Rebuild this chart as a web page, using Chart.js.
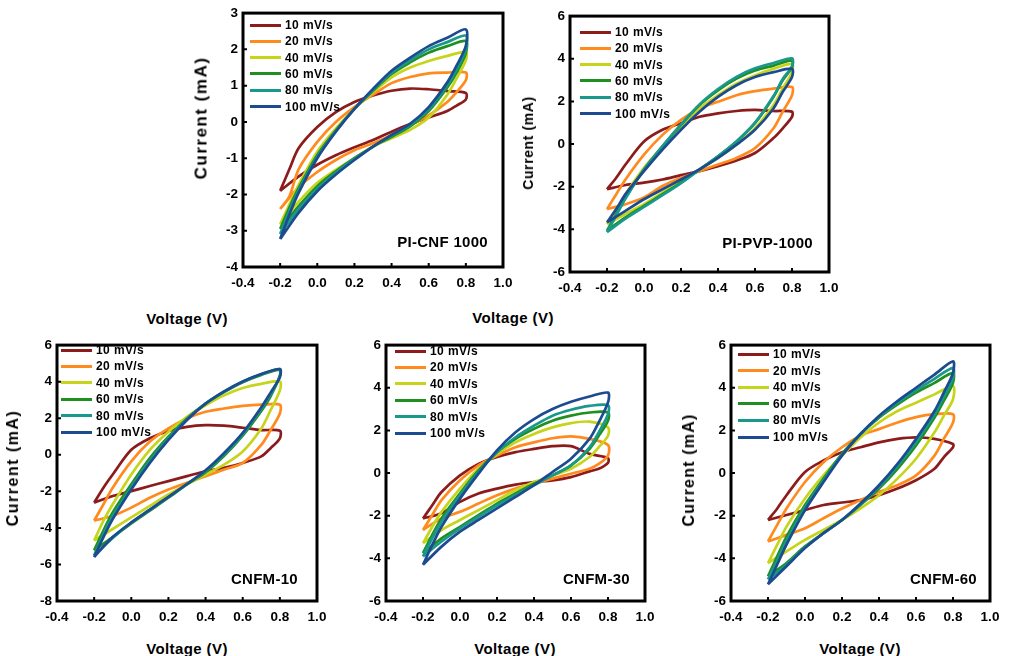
<!DOCTYPE html>
<html>
<head>
<meta charset="utf-8">
<script src="https://cdn.jsdelivr.net/npm/chart.js@4.4.1/dist/chart.umd.min.js"></script>
<style>
  body { margin: 0; background: #fff; }
  #fig { position: relative; width: 1032px; height: 656px; overflow: hidden;
         font-family: "Liberation Sans", Arial, sans-serif; color: #000; }
  #fig canvas { position: absolute; }
  .txt { position: absolute; white-space: nowrap; font-weight: bold; line-height: 1; }
  .swatch { position: absolute; height: 3px; }
</style>
</head>
<body>
<div id="fig"></div>
<script>
// voltage grid : forward scan then reverse scan
const fwdV = [-0.2, -0.15, -0.1, 0, 0.1, 0.2, 0.3, 0.4, 0.5, 0.6, 0.7, 0.8];
const revV = [0.8, 0.75, 0.7, 0.6, 0.5, 0.4, 0.3, 0.2, 0.1, 0, -0.1, -0.2];

const rates = ['10 mV/s', '20 mV/s', '40 mV/s', '60 mV/s', '80 mV/s', '100 mV/s'];
const colors = ['#8c1c1c', '#ff8a1e', '#c6d41a', '#1f8f1f', '#18998b', '#1d4b8f'];

const xTicks = [-0.4, 1.0, 0.2];

// PI-CNF 1000 (current in mA)
const cnfFwd = [
  [-1.9, -1.3, -0.72, -0.14, 0.27, 0.55, 0.73, 0.86, 0.92, 0.9, 0.85, 0.8],
  [-2.4, -2.05, -1.3, -0.55, 0.0, 0.41, 0.75, 1.07, 1.24, 1.34, 1.36, 1.36],
  [-2.82, -2.27, -1.73, -0.82, -0.18, 0.36, 0.82, 1.23, 1.5, 1.68, 1.82, 1.93],
  [-2.95, -2.36, -1.82, -0.91, -0.23, 0.36, 0.86, 1.32, 1.64, 1.91, 2.09, 2.23],
  [-3.09, -2.45, -1.88, -0.95, -0.25, 0.36, 0.88, 1.36, 1.7, 2.0, 2.2, 2.38],
  [-3.23, -2.55, -1.95, -1.0, -0.27, 0.36, 0.91, 1.41, 1.77, 2.09, 2.32, 2.55]
];
const cnfRev = [
  [0.62, 0.45, 0.3, 0.12, -0.06, -0.27, -0.5, -0.7, -0.92, -1.18, -1.5, -1.9],
  [1.15, 0.82, 0.55, 0.18, -0.09, -0.36, -0.59, -0.78, -1.05, -1.38, -1.8, -2.4],
  [1.7, 1.2, 0.75, 0.12, -0.22, -0.45, -0.68, -1.0, -1.32, -1.68, -2.2, -2.82],
  [1.9, 1.36, 0.95, 0.3, -0.12, -0.41, -0.68, -1.0, -1.36, -1.77, -2.32, -2.95],
  [2.0, 1.45, 1.02, 0.35, -0.08, -0.38, -0.68, -1.02, -1.4, -1.84, -2.4, -3.09],
  [2.1, 1.55, 1.09, 0.41, -0.05, -0.36, -0.68, -1.05, -1.45, -1.91, -2.5, -3.23]
];

// PI-PVP-1000
const pvpFwd = [
  [-2.12, -1.58, -0.96, 0.12, 0.67, 0.98, 1.28, 1.44, 1.55, 1.6, 1.55, 1.52],
  [-3.05, -2.35, -1.66, -0.5, 0.43, 1.13, 1.67, 1.98, 2.29, 2.48, 2.6, 2.68],
  [-3.75, -3.13, -2.35, -1.11, -0.11, 0.82, 1.67, 2.29, 2.83, 3.22, 3.53, 3.76],
  [-4.06, -3.28, -2.51, -1.19, -0.11, 0.9, 1.83, 2.52, 3.07, 3.45, 3.68, 3.92],
  [-4.13, -3.35, -2.55, -1.2, -0.1, 0.92, 1.86, 2.58, 3.15, 3.55, 3.8, 4.02],
  [-3.67, -3.05, -2.35, -1.27, -0.26, 0.67, 1.52, 2.21, 2.76, 3.14, 3.37, 3.53]
];
const pvpRev = [
  [1.28, 0.74, 0.28, -0.42, -0.77, -1.04, -1.27, -1.46, -1.66, -1.81, -1.92, -2.12],
  [2.29, 1.52, 0.74, -0.19, -0.65, -0.96, -1.27, -1.58, -1.97, -2.5, -2.82, -3.05],
  [3.37, 2.6, 1.83, 0.74, -0.03, -0.65, -1.19, -1.73, -2.28, -2.82, -3.28, -3.75],
  [3.6, 2.99, 2.21, 0.98, 0.12, -0.57, -1.19, -1.81, -2.35, -2.9, -3.44, -4.06],
  [3.65, 3.05, 2.25, 1.0, 0.12, -0.58, -1.2, -1.83, -2.4, -2.95, -3.5, -4.13],
  [3.14, 2.45, 1.67, 0.67, -0.03, -0.65, -1.19, -1.66, -2.12, -2.59, -3.13, -3.67]
];

// CNFM-10
const m10Fwd = [
  [-2.62, -1.8, -1.08, 0.27, 0.9, 1.3, 1.53, 1.62, 1.59, 1.48, 1.35, 1.32],
  [-3.61, -2.71, -1.8, -0.36, 0.72, 1.44, 1.99, 2.35, 2.53, 2.67, 2.74, 2.74],
  [-4.69, -3.61, -2.71, -1.08, 0.27, 1.26, 2.08, 2.71, 3.25, 3.65, 3.88, 4.01],
  [-5.23, -4.15, -3.16, -1.62, -0.18, 0.99, 1.99, 2.8, 3.43, 3.97, 4.37, 4.66],
  [-5.5, -4.35, -3.35, -1.78, -0.32, 0.9, 1.95, 2.8, 3.45, 4.0, 4.4, 4.69],
  [-5.6, -4.51, -3.52, -1.9, -0.45, 0.81, 1.9, 2.8, 3.47, 4.01, 4.42, 4.69]
];
const m10Rev = [
  [0.9, 0.36, -0.09, -0.45, -0.72, -0.9, -1.17, -1.44, -1.71, -1.99, -2.26, -2.62],
  [2.26, 1.35, 0.54, -0.45, -0.81, -1.17, -1.53, -1.9, -2.35, -2.89, -3.34, -3.61],
  [3.52, 2.44, 1.44, 0.18, -0.54, -1.08, -1.62, -2.17, -2.8, -3.43, -4.06, -4.69],
  [4.33, 3.2, 2.4, 1.05, -0.05, -0.95, -1.62, -2.35, -3.05, -3.75, -4.51, -5.23],
  [4.3, 3.3, 2.5, 1.12, 0.02, -0.9, -1.6, -2.32, -3.02, -3.72, -4.55, -5.5],
  [4.24, 3.4, 2.6, 1.2, 0.1, -0.85, -1.6, -2.3, -3.0, -3.7, -4.5, -5.6]
];

// CNFM-30
const m30Fwd = [
  [-2.13, -1.51, -0.89, -0.11, 0.43, 0.75, 0.98, 1.13, 1.26, 1.26, 0.9, 0.7],
  [-2.67, -1.97, -1.27, -0.34, 0.36, 0.82, 1.21, 1.44, 1.63, 1.72, 1.6, 1.32],
  [-3.29, -2.52, -1.82, -0.73, 0.2, 0.9, 1.44, 1.83, 2.14, 2.34, 2.41, 2.14],
  [-3.76, -2.9, -2.13, -0.96, 0.12, 0.98, 1.6, 2.07, 2.45, 2.69, 2.84, 2.84],
  [-3.91, -3.06, -2.28, -1.04, 0.05, 0.98, 1.68, 2.22, 2.69, 2.97, 3.15, 3.18],
  [-4.3, -3.37, -2.52, -1.2, -0.03, 1.06, 1.91, 2.53, 3.0, 3.34, 3.59, 3.77]
];
const m30Rev = [
  [0.48, 0.2, 0.08, -0.19, -0.34, -0.42, -0.54, -0.73, -0.96, -1.35, -1.89, -2.13],
  [0.82, 0.43, 0.2, -0.03, -0.26, -0.5, -0.73, -1.04, -1.43, -1.82, -2.13, -2.67],
  [1.75, 1.21, 0.75, 0.2, -0.11, -0.42, -0.81, -1.27, -1.74, -2.2, -2.67, -3.29],
  [2.45, 1.75, 1.13, 0.36, -0.11, -0.5, -0.96, -1.43, -1.97, -2.52, -3.06, -3.76],
  [2.76, 1.91, 1.21, 0.36, -0.11, -0.57, -1.04, -1.51, -2.05, -2.59, -3.21, -3.91],
  [3.31, 2.38, 1.6, 0.67, 0.05, -0.57, -1.12, -1.66, -2.2, -2.75, -3.45, -4.3]
];

// CNFM-60
const m60Fwd = [
  [-2.2, -1.66, -1.04, 0.05, 0.59, 0.98, 1.21, 1.44, 1.6, 1.67, 1.6, 1.36],
  [-3.21, -2.43, -1.66, -0.42, 0.51, 1.21, 1.75, 2.06, 2.37, 2.62, 2.76, 2.76],
  [-4.22, -3.36, -2.51, -1.19, -0.11, 0.82, 1.67, 2.37, 2.91, 3.3, 3.69, 4.08],
  [-4.84, -3.91, -2.98, -1.5, -0.26, 0.9, 1.83, 2.6, 3.22, 3.77, 4.23, 4.7],
  [-4.99, -4.1, -3.17, -1.62, -0.34, 0.86, 1.83, 2.64, 3.3, 3.88, 4.42, 4.93],
  [-5.22, -4.29, -3.36, -1.74, -0.42, 0.82, 1.83, 2.68, 3.38, 4.0, 4.62, 5.24]
];
const m60Rev = [
  [1.21, 0.74, 0.2, -0.34, -0.73, -1.04, -1.27, -1.38, -1.5, -1.74, -1.97, -2.2],
  [2.37, 1.6, 0.82, -0.11, -0.57, -0.88, -1.27, -1.66, -2.12, -2.59, -2.9, -3.21],
  [3.46, 2.68, 1.91, 0.67, -0.26, -1.04, -1.66, -2.2, -2.67, -3.13, -3.67, -4.22],
  [4.23, 3.38, 2.6, 1.29, 0.2, -0.73, -1.5, -2.2, -2.82, -3.44, -4.22, -4.84],
  [4.45, 3.57, 2.75, 1.45, 0.32, -0.65, -1.47, -2.2, -2.82, -3.48, -4.3, -4.99],
  [4.7, 3.77, 2.91, 1.6, 0.43, -0.57, -1.43, -2.2, -2.82, -3.52, -4.37, -5.22]
];

// layout of each panel (plot box in page pixels, y axis range, decorations)
const panels = [
  { name: 'PI-CNF 1000', fwd: cnfFwd, rev: cnfRev, box: [243, 10, 503, 267], y: [-4, 3, 1],
    legend: [250, 25, 16.3], yTitle: [201, 118, 17, 1.5], xTitle: [187, 318], tag: [488, 241] },
  { name: 'PI-PVP-1000', fwd: pvpFwd, rev: pvpRev, box: [570, 13, 829, 272], y: [-6, 6, 2],
    legend: [580, 32, 16.3], yTitle: [528, 143, 14, 0.6], xTitle: [513, 317], tag: [813, 242] },
  { name: 'CNFM-10', fwd: m10Fwd, rev: m10Rev, box: [57, 342, 317, 601], y: [-8, 6, 2],
    legend: [61, 350, 16.4], yTitle: [13, 468, 16, 1.5], xTitle: [187, 648], tag: [298, 578] },
  { name: 'CNFM-30', fwd: m30Fwd, rev: m30Rev, box: [386, 342, 645, 601], y: [-6, 6, 2],
    legend: [395, 351, 16.4], yTitle: null, xTitle: [515, 648], tag: [630, 578] },
  { name: 'CNFM-60', fwd: m60Fwd, rev: m60Rev, box: [731, 342, 990, 601], y: [-6, 6, 2],
    legend: [738, 354, 16.6], yTitle: [689, 470, 16, 1.2], xTitle: [860, 648], tag: [977, 578] }
];

const fig = document.getElementById('fig');
const padL = 45, padB = 34, padT = 10, padR = 18;
const tickFont = { family: '"Liberation Sans", Arial, sans-serif', size: 13.5, weight: 'bold' };

// black frame + small inward ticks
const framePlugin = {
  id: 'frame',
  afterDraw(chart) {
    const { ctx, chartArea: a, scales } = chart;
    ctx.save();
    ctx.strokeStyle = '#000';
    ctx.lineWidth = 3;
    ctx.strokeRect(a.left, a.top, a.right - a.left, a.bottom - a.top);
    ctx.lineWidth = 2;
    ctx.beginPath();
    scales.x.ticks.forEach(t => {
      const px = scales.x.getPixelForValue(t.value);
      if (px > a.left + 3 && px < a.right - 3) { ctx.moveTo(px, a.bottom); ctx.lineTo(px, a.bottom - 4); }
    });
    scales.y.ticks.forEach(t => {
      const py = scales.y.getPixelForValue(t.value);
      if (py > a.top + 3 && py < a.bottom - 3) { ctx.moveTo(a.left, py); ctx.lineTo(a.left + 4, py); }
    });
    ctx.stroke();
    ctx.restore();
  }
};

function addText(text, x, y, size, spacing, transform) {
  const d = document.createElement('div');
  d.className = 'txt';
  d.textContent = text;
  d.style.left = x + 'px';
  d.style.top = y + 'px';
  d.style.fontSize = size + 'px';
  d.style.letterSpacing = spacing + 'px';
  d.style.transform = transform;
  fig.appendChild(d);
}

panels.forEach(p => {
  const [L, T, R, B] = p.box;
  const cv = document.createElement('canvas');
  cv.width = (R - L) + padL + padR;
  cv.height = (B - T) + padT + padB;
  cv.style.left = (L - padL) + 'px';
  cv.style.top = (T - padT) + 'px';
  fig.appendChild(cv);

  const datasets = rates.map((r, i) => ({
    label: r,
    data: fwdV.map((v, k) => ({ x: v, y: p.fwd[i][k] }))
      .concat(revV.map((v, k) => ({ x: v, y: p.rev[i][k] }))),
    showLine: true,
    borderColor: colors[i],
    backgroundColor: colors[i],
    borderWidth: 2.7,
    pointRadius: 0,
    tension: 0.3,
    order: rates.length - 1 - i
  }));

  new Chart(cv, {
    type: 'scatter',
    data: { datasets },
    options: {
      responsive: false,
      animation: false,
      layout: { padding: { top: padT, right: padR, left: 0, bottom: 0 } },
      plugins: { legend: { display: false }, tooltip: { enabled: false } },
      scales: {
        x: {
          type: 'linear', min: xTicks[0], max: xTicks[1],
          ticks: { stepSize: xTicks[2], padding: 8, color: '#000', font: tickFont,
                   callback: v => Math.abs(v) < 1e-9 ? '0.0' : v.toFixed(1) },
          grid: { display: false, drawTicks: false },
          border: { display: false },
          afterFit: s => { s.height = padB; }
        },
        y: {
          min: p.y[0], max: p.y[1],
          ticks: { stepSize: p.y[2], padding: 5, color: '#000', font: tickFont },
          grid: { display: false, drawTicks: false },
          border: { display: false },
          afterFit: s => { s.width = padL; }
        }
      }
    },
    plugins: [framePlugin]
  });

  // legend inside the plot
  const [lx, ly, gap] = p.legend;
  rates.forEach((r, i) => {
    const sw = document.createElement('div');
    sw.className = 'swatch';
    sw.style.left = lx + 'px';
    sw.style.top = (ly + i * gap - 1.5) + 'px';
    sw.style.width = '31px';
    sw.style.background = colors[i];
    fig.appendChild(sw);
    addText(r, lx + 35, ly + i * gap, 12, 0.4, 'translateY(-50%)');
  });

  if (p.yTitle) {
    const [cx, cy, size, sp] = p.yTitle;
    addText('Current (mA)', cx, cy, size, sp, 'translate(-50%,-50%) rotate(-90deg)');
  }
  addText('Voltage (V)', p.xTitle[0], p.xTitle[1], 15, 0.4, 'translate(-50%,-50%)');
  addText(p.name, p.tag[0], p.tag[1], 15, 0.3, 'translate(-100%,-50%)');
});
</script>
</body>
</html>
